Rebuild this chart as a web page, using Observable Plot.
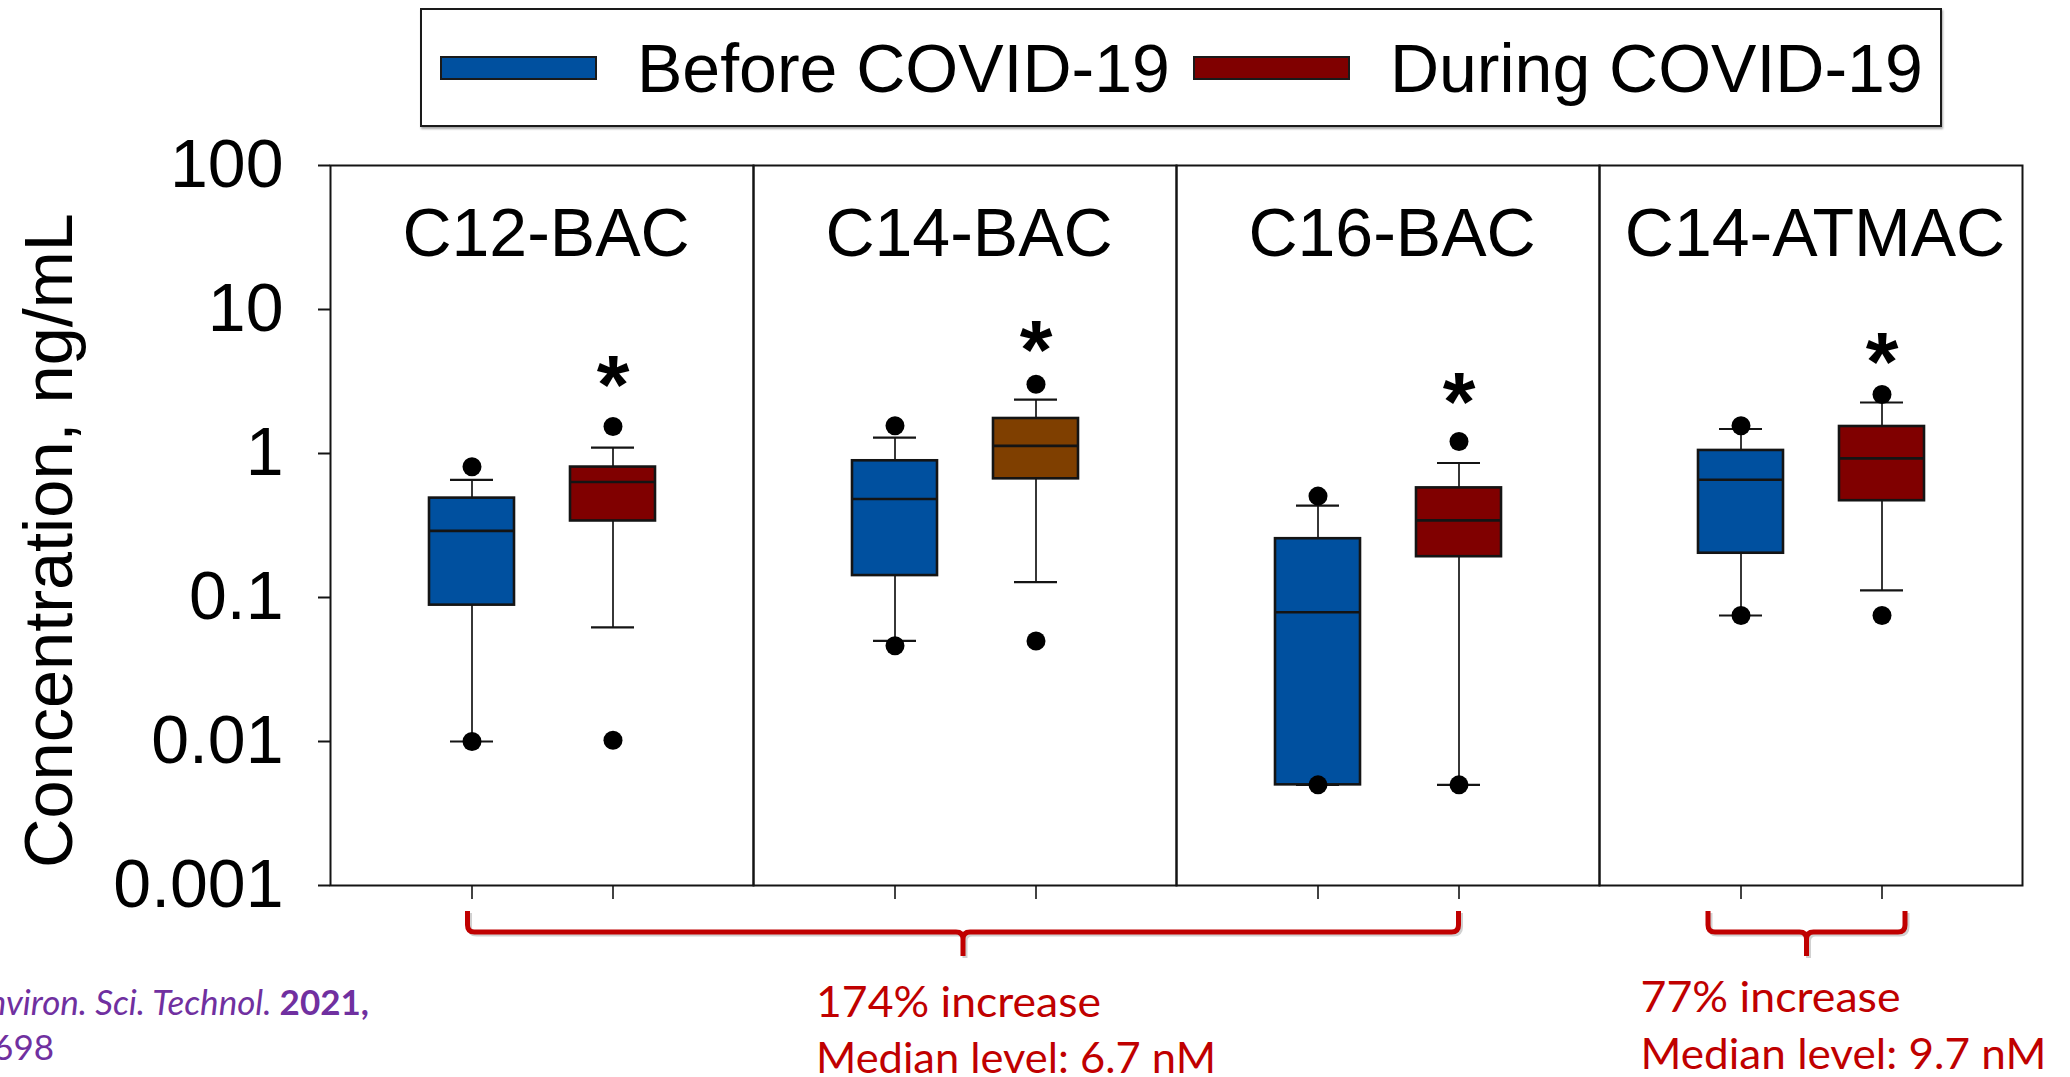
<!DOCTYPE html>
<html>
<head>
<meta charset="utf-8">
<script src="https://cdn.jsdelivr.net/npm/d3@7"></script>
<script src="https://cdn.jsdelivr.net/npm/@observablehq/plot@0.6"></script>
<style>
  html, body { margin: 0; padding: 0; background: #fff; }
  #page { position: relative; width: 2070px; height: 1077px; overflow: hidden; background: #fff; }
  #legendWrap { position: relative; width: 2070px; height: 140px; }
  #legendBox {
    position: absolute; left: 420px; top: 8px; width: 1522px; height: 119px;
    box-sizing: border-box; border: 2px solid #1a1a1a;
    box-shadow: 1px 2px 2px rgba(0,0,0,0.35);
    display: flex; align-items: center; padding-left: 19px; background: #fff;
  }
  #legendBox .lg-swatches { margin: 0 !important; width: 1490px; flex: 0 0 auto;
    display: flex !important; flex-wrap: nowrap !important; align-items: center; }
  #legendBox .lg-swatch { margin-right: 24px !important; display: inline-flex !important;
    align-items: center; white-space: nowrap; }
  #legendBox .lg-swatch > svg { margin-right: 41px !important; flex: 0 0 auto; }
  #legendBox .lg-swatch svg rect { stroke: #1a1a1a; stroke-width: 2px; }
  #chart svg { display: block; }
</style>
</head>
<body>
<div id="page">
  <div id="legendWrap"><div id="legendBox"></div></div>
  <div id="chart"></div>
</div>
<script>
// ---------- data ----------
const panels = ["C12-BAC", "C14-BAC", "C16-BAC", "C14-ATMAC"];
const periods = ["Before", "During"];
const legendLabels = ["Before COVID-19", "During COVID-19"];
const yTicks = [0.001, 0.01, 0.1, 1, 10, 100];
const yTickLabels = ["0.001", "0.01", "0.1", "1", "10", "100"];
const yLabel = "Concentration, ng/mL";

// box summaries (ng/mL), one entry per box
const boxPanel  = ["C12-BAC", "C12-BAC", "C14-BAC", "C14-BAC", "C16-BAC", "C16-BAC", "C14-ATMAC", "C14-ATMAC"];
const boxPeriod = ["Before", "During", "Before", "During", "Before", "During", "Before", "During"];
const boxGroup  = ["Before", "During", "Before", "During C14-BAC", "Before", "During", "Before", "During"];
const whiskerLow  = [0.0100, 0.062, 0.050, 0.128, 0.0050, 0.0050, 0.075, 0.112];
const quartile1   = [0.0885, 0.340, 0.142, 0.667, 0.0050, 0.192, 0.203, 0.470];
const medianVal   = [0.290, 0.634, 0.483, 1.13, 0.079, 0.343, 0.658, 0.925];
const quartile3   = [0.490, 0.805, 0.890, 1.75, 0.256, 0.577, 1.05, 1.54];
const whiskerHigh = [0.656, 1.10, 1.29, 2.37, 0.434, 0.859, 1.48, 2.26];

// outlier points
const outlierPanel  = ["C12-BAC", "C12-BAC", "C12-BAC", "C12-BAC", "C14-BAC", "C14-BAC", "C14-BAC", "C14-BAC",
                       "C16-BAC", "C16-BAC", "C16-BAC", "C16-BAC", "C14-ATMAC", "C14-ATMAC", "C14-ATMAC", "C14-ATMAC"];
const outlierPeriod = ["Before", "Before", "During", "During", "Before", "Before", "During", "During",
                       "Before", "Before", "During", "During", "Before", "Before", "During", "During"];
const outlierValue  = [0.81, 0.0100, 1.54, 0.0102, 1.56, 0.0462, 3.03, 0.0499,
                       0.506, 0.0050, 1.21, 0.0050, 1.557, 0.075, 2.57, 0.075];

// significance markers
const starPanel  = ["C12-BAC", "C14-BAC", "C16-BAC", "C14-ATMAC"];
const starPeriod = ["During", "During", "During", "During"];
const starValue  = [3.77, 6.68, 2.87, 5.47];
const starText   = "*";

// annotations
const noteBig   = ["174% increase", "Median level: 6.7 nM"];
const noteSmall = ["77% increase", "Median level: 9.7 nM"];
const citeLine1 = ["Environ. Sci. Technol. ", "2021,"];
const citeLine2 = "698";

// ---------- styles ----------
const FONT = "'Liberation Sans', Arial, Helvetica, sans-serif";
const BLUE = "#00509f", RED = "#800000", BROWN = "#7f3f00", INK = "#141414";
const NOTE_RED = "#c00000", CITE_PURPLE = "#7030a0";

// ---------- tables ----------
const boxes = boxPanel.map((p, i) => ({
  panel: p, period: boxPeriod[i], group: boxGroup[i],
  lo: whiskerLow[i], q1: quartile1[i], med: medianVal[i], q3: quartile3[i], hi: whiskerHigh[i]
}));
const outliers = outlierPanel.map((p, i) => ({panel: p, period: outlierPeriod[i], value: outlierValue[i]}));
const stars = starPanel.map((p, i) => ({panel: p, period: starPeriod[i], value: starValue[i]}));

// ---------- legend ----------
const legend = Plot.legend({
  color: {type: "ordinal", domain: legendLabels, range: [BLUE, RED]},
  legend: "swatches",
  swatchWidth: 155, swatchHeight: 22,
  className: "lg",
  style: {fontSize: "68px", fontFamily: FONT, color: "#000"}
});
document.getElementById("legendBox").appendChild(legend);

// ---------- chart ----------
const plot = Plot.plot({
  width: 2070, height: 937,
  marginTop: 25, marginBottom: 192, marginLeft: 329, marginRight: 48,
  style: {fontFamily: FONT, color: "#000", background: "transparent", overflow: "visible"},
  fx: {domain: panels, padding: 0, axis: null},
  x: {domain: periods, paddingInner: 0.4, paddingOuter: 0.7, axis: null},
  y: {type: "log", domain: [0.001, 100], axis: null},
  color: {domain: ["Before", "During", "During C14-BAC"], range: [BLUE, RED, BROWN]},
  marks: [
    Plot.frame({stroke: INK, strokeWidth: 2}),
    Plot.axisY({
      ticks: yTicks, tickFormat: d => yTickLabels[yTicks.indexOf(d)],
      tickSize: 12, tickPadding: 35, strokeWidth: 2, stroke: INK, fontSize: 68,
      label: yLabel, labelAnchor: "center", labelArrow: "none", labelOffset: 307
    }),
    Plot.axisX({tickSize: 14, tickFormat: () => "", strokeWidth: 1.6, stroke: INK, label: null}),
    Plot.ruleX(boxes, {fx: "panel", x: "period", y1: "lo", y2: "hi", stroke: INK, strokeWidth: 1.7}),
    Plot.tickY(boxes, {fx: "panel", x: "period", y: "lo", insetLeft: 21, insetRight: 21, stroke: INK, strokeWidth: 2.2}),
    Plot.tickY(boxes, {fx: "panel", x: "period", y: "hi", insetLeft: 21, insetRight: 21, stroke: INK, strokeWidth: 2.2}),
    Plot.barY(boxes, {fx: "panel", x: "period", y1: "q1", y2: "q3", fill: "group", stroke: INK, strokeWidth: 2.6}),
    Plot.tickY(boxes, {fx: "panel", x: "period", y: "med", stroke: INK, strokeWidth: 2.6}),
    Plot.dot(outliers, {fx: "panel", x: "period", y: "value", r: 9.5, fill: "#000", stroke: "none"}),
    Plot.text(stars, {fx: "panel", x: "period", y: "value", text: () => starText,
      fontSize: 84, fontWeight: "bold", dy: 17, fill: "#000"}),
    Plot.text(panels, {fx: d => d, text: d => d, frameAnchor: "top", lineAnchor: "top",
      dy: 42, dx: 4, fontSize: 68, fill: "#000"})
  ]
});
document.getElementById("chart").appendChild(plot);

// y-axis title: placed a touch lower, as in the reference
const labelG = d3.select(plot).select('g[aria-label="y-axis label"]');
if (!labelG.empty()) {
  labelG.attr("font-size", 68.5);
  labelG.attr("transform", (labelG.attr("transform") || "") + " translate(0,15)");
}

// ---------- brackets & notes (positions read back from the rendered scales) ----------
const svg = d3.select(plot);
const sb = plot.getBoundingClientRect();
const bars = Array.from(plot.querySelectorAll('g[aria-label="bar"] rect')).map(r => {
  const b = r.getBoundingClientRect();
  return {x0: b.left - sb.left, x1: b.right - sb.left, cx: (b.left + b.right) / 2 - sb.left};
});
const yBottom = plot.scale("y").apply(0.001);

function bracketPath(x0, x1, xm, yTop, yH, yNub, r) {
  return `M${x0},${yTop} V${yH - r} Q${x0},${yH} ${x0 + r},${yH} H${xm - r} Q${xm},${yH} ${xm},${yH + r} V${yNub}` +
         ` M${xm},${yH + r} Q${xm},${yH} ${xm + r},${yH} H${x1 - r} Q${x1},${yH} ${x1},${yH - r} V${yTop}`;
}
const yTop = yBottom + 26, yH = yBottom + 47, yNub = yBottom + 71;
const big = {x0: bars[0].cx - 4, x1: bars[5].cx};
big.xm = (big.x0 + big.x1) / 2;
const small = {x0: bars[6].x0 + 10, x1: bars[7].x1 - 19};
small.xm = (small.x0 + small.x1) / 2;

const g = svg.append("g").attr("aria-label", "annotations").attr("text-anchor", "start");
for (const b of [big, small]) {
  g.append("path").attr("d", bracketPath(b.x0 + 2, b.x1 + 2, b.xm + 2, yTop + 2, yH + 2, yNub + 2, 7))
    .attr("fill", "none").attr("stroke", "rgba(0,0,0,0.18)").attr("stroke-width", 5);
  g.append("path").attr("d", bracketPath(b.x0, b.x1, b.xm, yTop, yH, yNub, 7))
    .attr("fill", "none").attr("stroke", NOTE_RED).attr("stroke-width", 5).attr("stroke-linejoin", "round");
}
const noteFont = "Lato, 'Open Sans', sans-serif";
function note(text, x, y, len) {
  g.append("text").attr("x", x).attr("y", y).attr("fill", NOTE_RED).attr("text-anchor", "start")
    .attr("font-family", noteFont).attr("font-size", 42)
    .attr("textLength", len).attr("lengthAdjust", "spacingAndGlyphs").text(text);
}
note(noteBig[0], big.xm - 147, yBottom + 132, 285);
note(noteBig[1], big.xm - 147, yBottom + 188, 400);
note(noteSmall[0], small.xm - 166, yBottom + 127, 260);
note(noteSmall[1], small.xm - 166, yBottom + 184, 406);

const c1 = g.append("text").attr("x", 369).attr("y", yBottom + 130).attr("text-anchor", "end")
  .attr("fill", CITE_PURPLE).attr("font-family", noteFont).attr("font-size", 35);
c1.append("tspan").attr("font-style", "italic").text(citeLine1[0]);
c1.append("tspan").attr("font-weight", "bold").text(citeLine1[1]);
g.append("text").attr("x", 54).attr("y", yBottom + 175).attr("text-anchor", "end")
  .attr("fill", CITE_PURPLE).attr("font-family", noteFont).attr("font-size", 35).text(citeLine2);
</script>
</body>
</html>
